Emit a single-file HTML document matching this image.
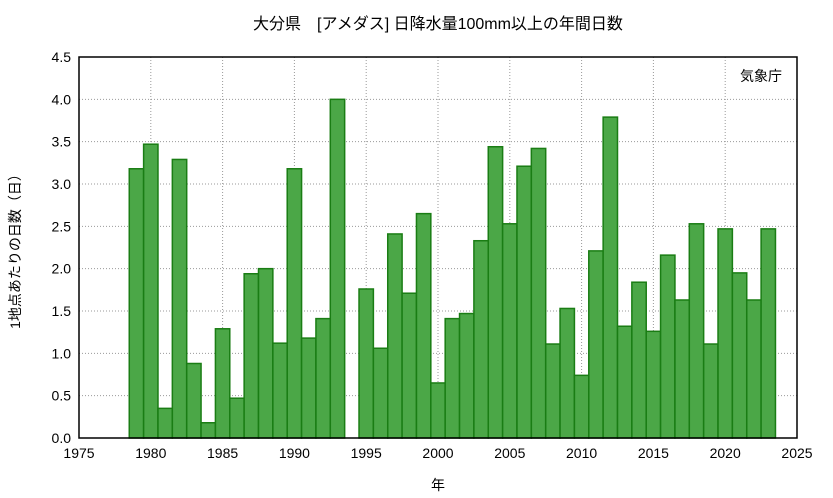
<!DOCTYPE html>
<html><head><meta charset="utf-8"><style>
body{margin:0;background:#fff;}
svg{display:block;font-family:"Liberation Sans","Noto Sans CJK JP",sans-serif;}
</style></head><body>
<svg id="c" width="833" height="498"></svg>
<script>
const years1=[1979,1980,1981,1982,1983,1984,1985,1986,1987,1988,1989,1990,1991,1992,1993];
const vals1=[3.18,3.47,0.35,3.29,0.88,0.18,1.29,0.47,1.94,2.00,1.12,3.18,1.18,1.41,4.00];
const years2=[1995,1996,1997,1998,1999,2000,2001,2002,2003,2004,2005,2006,2007,2008,2009,2010,2011,2012,2013,2014,2015,2016,2017,2018,2019,2020,2021,2022,2023];
const vals2=[1.76,1.06,2.41,1.71,2.65,0.65,1.41,1.47,2.33,3.44,2.53,3.21,3.42,1.11,1.53,0.74,2.21,3.79,1.32,1.84,1.26,2.16,1.63,2.53,1.11,2.47,1.95,1.63,2.47];
const xTicks=[1975,1980,1985,1990,1995,2000,2005,2010,2015,2020,2025];
const yTicks=[0,0.5,1,1.5,2,2.5,3,3.5,4,4.5];
const L=79,R=797,T=57,B=438;
const X=v=>L+(v-1975)/50*(R-L);
const Y=v=>B-v/4.5*(B-T);
const svg=document.getElementById('c');
const NS='http://www.w3.org/2000/svg';
function mk(t,a,txt){const e=document.createElementNS(NS,t);for(const k in a)e.setAttribute(k,a[k]);if(txt!=null)e.textContent=txt;svg.appendChild(e);return e;}
let e;
e=mk('rect',{x:L,y:T,width:R-L,height:B-T,fill:'#fff'});


xTicks.forEach(t=>{
 e=mk('line',{x1:X(t),x2:X(t),y1:T,y2:B,stroke:'#999','stroke-dasharray':'1,2','stroke-width':1});
 
 
 e=mk('line',{x1:X(t),x2:X(t),y1:B,y2:B-6,stroke:'#000'});
 
 
 e=mk('text',{x:X(t),y:B+20,'text-anchor':'middle','font-size':14},t);
 
 
});
yTicks.forEach(t=>{
 e=mk('line',{x1:L,x2:R,y1:Y(t),y2:Y(t),stroke:'#999','stroke-dasharray':'1,2','stroke-width':1});
 
 
 e=mk('text',{x:L-8,y:Y(t)+5,'text-anchor':'end','font-size':14},t.toFixed(1));
 
 
});
const w=(R-L)/50;
function bars(ys,vs){ys.forEach((yr,i)=>{
 e=mk('rect',{x:X(yr)-w/2,y:Y(vs[i]),width:w,height:B-Y(vs[i]),fill:'#4ba747',stroke:'#1a7d14','stroke-width':1.5});
 
 
});}
bars(years1,vals1);bars(years2,vals2);
e=mk('rect',{x:L,y:T,width:R-L,height:B-T,fill:'none',stroke:'#000','stroke-width':1.5});


e=mk('text',{x:438,y:29,'text-anchor':'middle','font-size':16},'大分県　[アメダス] 日降水量100mm以上の年間日数');


e=mk('text',{x:782,y:81,'text-anchor':'end','font-size':14},'気象庁');


e=mk('text',{x:438,y:490,'text-anchor':'middle','font-size':14},'年');


e=mk('text',{x:0,y:0,'text-anchor':'middle','font-size':14,transform:'translate(20,248) rotate(-90)'},'1地点あたりの日数（日）');


</script>
</body></html>
